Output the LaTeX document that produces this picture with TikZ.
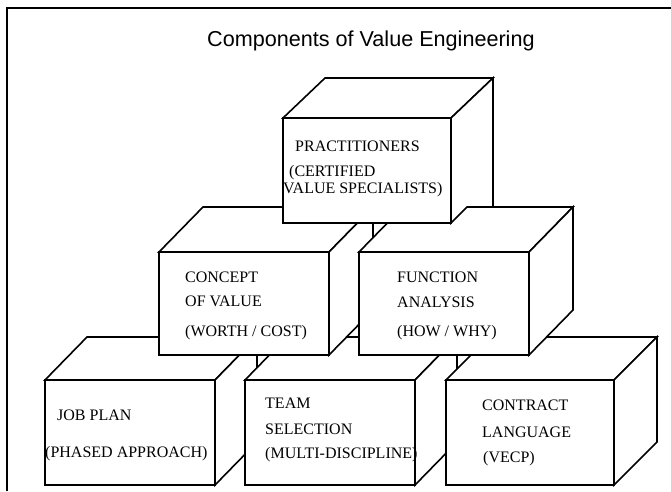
\documentclass[tikz,border=0pt]{standalone}
\usepackage{fontspec}
\setmainfont{Liberation Serif}
\newfontfamily\titlefont{Liberation Sans}
\begin{document}
\begin{tikzpicture}[x=1pt,y=-1pt,
  frameline/.style={line width=1.8pt},
  cubeline/.style={line width=1.6pt, fill=white, line join=miter},
  vetext/.style={anchor=base west, inner sep=0pt, font=\fontsize{16}{16}\selectfont},
  heading/.style={anchor=base west, inner sep=0pt, font=\titlefont\fontsize{21.6}{22}\selectfont}]

% page area
\useasboundingbox (0,0) rectangle (671,491);

% outer frame (open to the right and bottom)
\coordinate (frameTL) at (7,8);
\coordinate (frameTR) at (671,8);
\coordinate (frameBL) at (7,491);
\draw[frameline] (frameBL) -- (frameTL) -- (frameTR);

\node[heading] (title) at (207,46) {Components of Value Engineering};

% \veblock{x}{y}{width}{height}{depth x}{depth y}: a white block, front face at (x,y)
\newcommand\veblock[6]{%
  \filldraw[cubeline] (#1,#2) -- ++(#5,-#6) -- ++(#3,0) -- ++(-#5,#6) -- cycle;
  \filldraw[cubeline] (#1+#3,#2) -- ++(#5,-#6) -- ++(0,#4) -- ++(-#5,#6) -- cycle;
  \filldraw[cubeline] (#1,#2) rectangle ++(#3,#4);
}

% bottom row
\veblock{45}{380}{170}{105}{42}{43}
\node[vetext] (job1) at (57,420) {JOB PLAN};
\node[vetext] (job2) at (45,457) {(PHASED APPROACH)};

\veblock{245}{380}{170}{105}{42}{43}
\node[vetext] (team1) at (265,408) {TEAM};
\node[vetext] (team2) at (265,434) {SELECTION};
\node[vetext] (team3) at (265,458) {(MULTI-DISCIPLINE)};

\veblock{446}{380}{168}{105}{43}{43}
\node[vetext] (con1) at (482,410) {CONTRACT};
\node[vetext] (con2) at (482,437) {LANGUAGE};
\node[vetext] (con3) at (483,462) {(VECP)};

% middle row
\veblock{159}{252}{170}{103}{44}{45}
\node[vetext] (val1) at (185,282) {CONCEPT};
\node[vetext] (val2) at (185,306) {OF VALUE};
\node[vetext] (val3) at (185,336) {(WORTH / COST)};

\veblock{359}{252}{170}{103}{44}{45}
\node[vetext] (fun1) at (397,282) {FUNCTION};
\node[vetext] (fun2) at (397,307) {ANALYSIS};
\node[vetext] (fun3) at (397,336) {(HOW / WHY)};

% top block: its side face runs down to the back edge of the FUNCTION block
\filldraw[cubeline] (283,118) -- (325,78) -- (493,78) -- (451,118) -- cycle;
\filldraw[cubeline] (451,118) -- (493,78) -- (493,207) -- (467,207) -- (451,223) -- cycle;
\filldraw[cubeline] (283,118) rectangle (451,223);
\node[vetext] (pr1) at (295,151) {PRACTITIONERS};
\node[vetext] (pr2) at (289,176) {(CERTIFIED};
\node[vetext] (pr3) at (283,193) {VALUE SPECIALISTS)};

\end{tikzpicture}
\end{document}
